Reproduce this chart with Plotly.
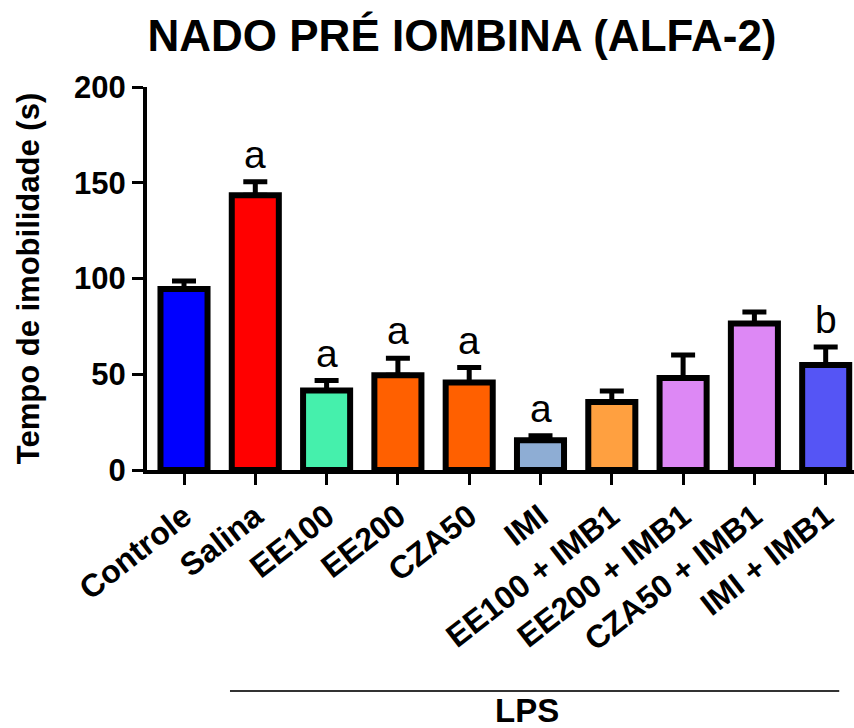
import plotly.graph_objects as go

categories = ["Controle", "Salina", "EE100", "EE200", "CZA50", "IMI",
              "EE100 + IMB1", "EE200 + IMB1", "CZA50 + IMB1", "IMI + IMB1"]
means = [94.5, 143.5, 41.5, 49.5, 45.7, 15.5, 35.5, 48, 76.5, 54.8]
sems = [4.2, 7.0, 5.2, 8.8, 7.8, 2.4, 5.8, 12.0, 6.0, 9.4]
letters = ["", "a", "a", "a", "a", "a", "", "", "", "b"]
colors = ["#0000FF", "#FF0000", "#45F0AC", "#FF6000", "#FF6000", "#8EADD4",
          "#FFA040", "#DD88F5", "#DD88F5", "#5555F5"]

FONT = "Arial, Liberation Sans, sans-serif"

fig = go.Figure()
fig.add_trace(go.Bar(
    x=list(range(len(categories))), y=means, width=0.66,
    marker=dict(color=colors, line=dict(color="black", width=6)),
    error_y=dict(type="data", array=sems, arrayminus=[0] * len(sems),
                 symmetric=False, color="black", thickness=5, width=12),
    showlegend=False, cliponaxis=False,
))

for i, (m, s, l) in enumerate(zip(means, sems, letters)):
    if l:
        fig.add_annotation(x=i, y=m + s, text=l, showarrow=False,
                           yanchor="bottom", yshift=4,
                           font=dict(family=FONT, size=39, color="black"))

# LPS bracket
fig.add_shape(type="line", xref="x", yref="paper", x0=0.645, x1=9.19,
              y0=-0.577, y1=-0.577, line=dict(color="#333333", width=2))
fig.add_annotation(xref="x", yref="paper", x=4.81, y=-0.627, text="LPS",
                   showarrow=False, yanchor="middle",
                   font=dict(family=FONT, size=33, color="black", weight="bold"))

fig.update_layout(
    width=854, height=728,
    margin=dict(l=147, r=0, t=87, b=258),
    plot_bgcolor="white", paper_bgcolor="white",
    title=dict(text="NADO PRÉ IOMBINA (ALFA-2)", xref="container", yref="container",
               x=0.541, xanchor="center", y=1 - 36 / 728, yanchor="middle",
               font=dict(family=FONT, size=44, color="black", weight="bold")),
    font=dict(family=FONT, color="black"),
)
fig.update_xaxes(
    range=[-0.519, 9.397], tickmode="array", tickvals=list(range(len(categories))),
    ticktext=categories, tickangle=-38, showline=True, linecolor="black", linewidth=4,
    ticks="outside", ticklen=11, tickwidth=3, tickcolor="black", showgrid=False,
    zeroline=False,
    tickfont=dict(family=FONT, size=32, color="black", weight="bold"),
)
fig.update_yaxes(
    range=[0, 200], tickvals=[0, 50, 100, 150, 200], showline=True, linecolor="black",
    linewidth=4, ticks="outside", ticklen=11, tickwidth=3, tickcolor="black",
    showgrid=False, zeroline=False,
    tickfont=dict(family=FONT, size=31, color="black", weight="bold"),
    title=dict(text="Tempo de imobilidade (s)", standoff=26,
               font=dict(family=FONT, size=31, color="black", weight="bold")),
)

fig.write_html("out.html")
